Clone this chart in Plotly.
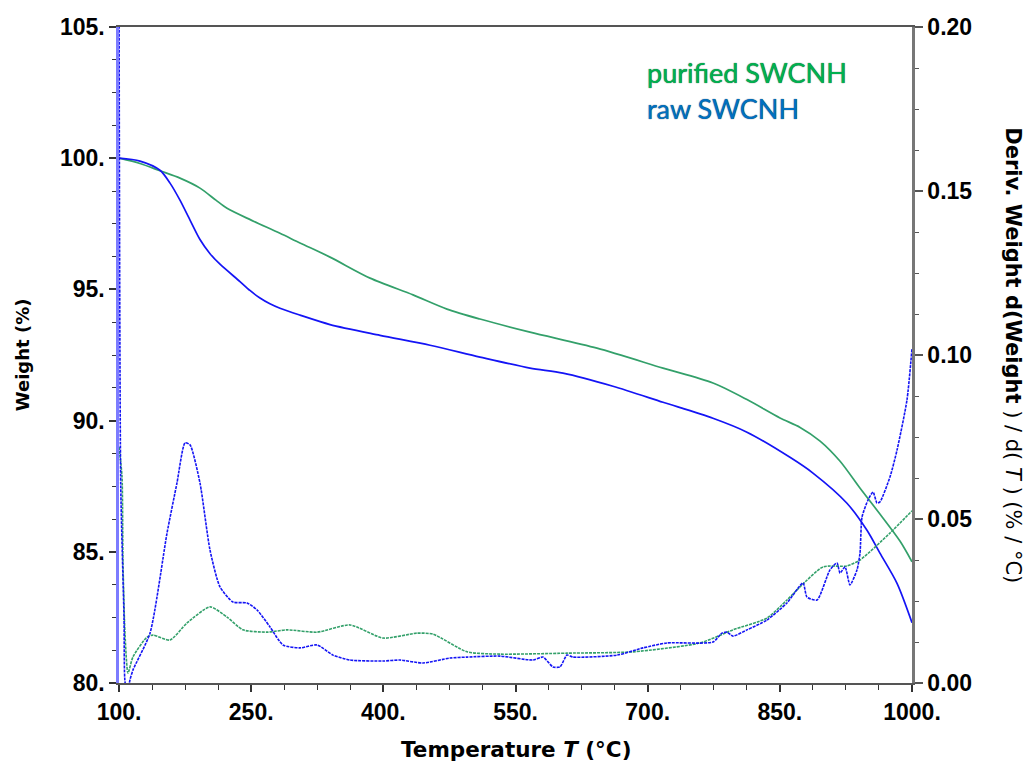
import plotly.graph_objects as go

# ---- Weight curves (%), solid ----
T_pur_w = [100, 123.8, 146.5, 169.2, 191.9, 210.0, 222.6, 250.0, 282.7, 305.4, 339.5, 384.9, 433.7,
           472.2, 509.7, 566.4, 642.5, 717.4, 774.1, 812.7, 850.2, 873.0, 895.7, 918.4, 941.1,
           963.8, 986.5, 1000]
W_pur = [100.0, 99.80, 99.52, 99.24, 98.86, 98.40, 98.09, 97.64, 97.14, 96.77, 96.23, 95.43, 94.79,
         94.25, 93.87, 93.37, 92.76, 92.00, 91.43, 90.80, 90.10, 89.74, 89.22, 88.45, 87.42,
         86.43, 85.40, 84.62]

T_raw_w = [100, 123.8, 146.5, 157.9, 169.2, 180.6, 191.9, 203.3, 214.6, 237.3, 248.6, 260.0, 271.3,
           282.7, 305.4, 339.5, 396.2, 453.0, 509.7, 566.4, 603.9, 660.6, 717.4, 774.1, 812.7,
           861.5, 887.6, 926.2, 948.9, 963.6, 983.0, 1000]
W_raw = [100.0, 99.89, 99.54, 99.05, 98.40, 97.64, 96.90, 96.36, 95.96, 95.30, 94.96, 94.67, 94.45,
         94.28, 94.02, 93.66, 93.25, 92.87, 92.42, 92.00, 91.81, 91.31, 90.70, 90.09, 89.56,
         88.60, 88.00, 86.85, 85.82, 84.95, 83.80, 82.30]

# ---- Derivative curves (% / °C), dashed ----
T_pur_d = [100, 103.4, 104.5, 106.8, 110.2, 115.9, 131.8, 138.6, 157.9, 177.2, 203.3, 222.6, 240.7,
           268.0, 290.7, 324.7, 362.2, 399.6, 438.2, 456.4, 495.0, 532.4, 608.4, 683.3, 759.4,
           796.8, 835.4, 858.1, 872.9, 899.0, 926.2, 941.0, 975.0, 1000]
D_pur = [0.072, 0.063, 0.037, 0.015, 0.003, 0.008, 0.014, 0.0146, 0.0131, 0.0183, 0.0232, 0.0201, 0.0162,
         0.0155, 0.0162, 0.0155, 0.0177, 0.0137, 0.0152, 0.0149, 0.0095, 0.0088, 0.0091, 0.0095, 0.0122,
         0.0162, 0.0198, 0.0253, 0.0293, 0.0354, 0.0357, 0.0375, 0.0457, 0.0525]

T_raw_d = [100, 102.0, 105.7, 107.0, 110.0, 112.5, 115.9, 135.2, 154.5, 165.8, 174.9, 180.6, 191.9,
           203.3, 214.6, 229.4, 245.3, 256.6, 271.4, 286.1, 305.4, 324.7, 342.9, 362.2, 399.6,
           418.9, 445.0, 475.7, 495.0, 532.4, 569.8, 581.2, 592.5, 600.5, 608.4, 615.2, 665.2,
           694.7, 721.9, 774.1, 784.3, 790.0, 796.8, 812.7, 835.4, 858.1, 876.3, 880.8, 892.2,
           906.9, 914.9, 918.3, 924.0, 929.6, 937.6, 941.0, 943.3, 950.1, 955.8, 960.3, 963.6,
           975.0, 983.0, 994.3, 1000]
D_raw = [0.22, 0.06, 0.02, 0.0, -0.002, 0.001, 0.004, 0.0152, 0.0457, 0.061, 0.0732, 0.0726, 0.061,
         0.0405, 0.0293, 0.0247, 0.0244, 0.0223, 0.0171, 0.0116, 0.0107, 0.0116, 0.0085, 0.0070, 0.0067,
         0.0070, 0.0061, 0.0076, 0.0079, 0.0082, 0.0070, 0.0079, 0.0049, 0.0049, 0.0085, 0.0079, 0.0085,
         0.0107, 0.0122, 0.0125, 0.0152, 0.0155, 0.0143, 0.0162, 0.0192, 0.0244, 0.0305, 0.0262, 0.0253,
         0.0345, 0.0366, 0.0335, 0.0354, 0.0299, 0.0345, 0.0396, 0.0506, 0.0558, 0.0582, 0.0549, 0.0552,
         0.0628, 0.0710, 0.0863, 0.102]

# ---- Axis ticks ----
x_ticks = [100, 250, 400, 550, 700, 850, 1000]
x_ticktext = ["100.", "250.", "400.", "550.", "700.", "850.", "1000."]
y_ticks = [80, 85, 90, 95, 100, 105]
y_ticktext = ["80.", "85.", "90.", "95.", "100.", "105."]
y2_ticks = [0.0, 0.05, 0.10, 0.15, 0.20]
y2_ticktext = ["0.00", "0.05", "0.10", "0.15", "0.20"]

GREEN = "#33a06a"
BLUE = "#1414f5"

fig = go.Figure()
fig.add_trace(go.Scatter(x=T_pur_d, y=D_pur, yaxis="y2", mode="lines",
                         line=dict(color=GREEN, width=1.6, dash="3px,1px", shape="spline", smoothing=0.6),
                         showlegend=False))
fig.add_trace(go.Scatter(x=T_raw_d, y=D_raw, yaxis="y2", mode="lines",
                         line=dict(color=BLUE, width=1.6, dash="3px,1px", shape="spline", smoothing=0.6),
                         showlegend=False))
fig.add_trace(go.Scatter(x=T_pur_w, y=W_pur, mode="lines",
                         line=dict(color=GREEN, width=1.7, shape="spline", smoothing=0.8),
                         showlegend=False))
fig.add_trace(go.Scatter(x=T_raw_w, y=W_raw, mode="lines",
                         line=dict(color=BLUE, width=1.7, shape="spline", smoothing=0.8),
                         showlegend=False))

tickfont = dict(family="Liberation Sans", size=23, color="black", weight="bold")
TITLE_FONT = "DejaVu Sans"

fig.update_layout(
    width=1027, height=764,
    margin=dict(l=119, r=115, t=27, b=81),
    paper_bgcolor="white", plot_bgcolor="white",
    xaxis=dict(range=[100, 1000], tickvals=x_ticks, ticktext=x_ticktext,
               ticks="outside", ticklen=7, tickwidth=1.5, tickcolor="#333",
               showline=True, linecolor="#555", linewidth=2, mirror=True,
               showgrid=False, zeroline=False, tickfont=tickfont,
               minor=dict(tick0=100, dtick=37.5, ticks="outside", ticklen=5, tickcolor="#333", tickwidth=1.2)),
    yaxis=dict(range=[80, 105], tickvals=y_ticks, ticktext=y_ticktext,
               ticks="outside", ticklen=7, tickwidth=1.5, tickcolor="#333",
               showline=True, linecolor="#7c7cff", linewidth=2.5,
               showgrid=False, zeroline=False, tickfont=tickfont,
               minor=dict(tick0=80, dtick=1.25, ticks="outside", ticklen=4, tickcolor="#333", tickwidth=1.2)),
    yaxis2=dict(range=[0, 0.2], overlaying="y", side="right", anchor="x",
                tickvals=y2_ticks, ticktext=y2_ticktext,
                ticks="outside", ticklen=8, tickwidth=1.5, tickcolor="#555",
                showline=True, linecolor="#777", linewidth=2.5,
                showgrid=False, zeroline=False, tickfont=tickfont,
                minor=dict(tick0=0, dtick=0.0125, ticks="outside", ticklen=4, tickcolor="#555", tickwidth=1.2)),
    annotations=[
        dict(text="<b>Weight (%)</b>", xref="paper", yref="paper", x=-0.122, y=0.5,
             textangle=-90, showarrow=False, xanchor="center", yanchor="middle",
             font=dict(family=TITLE_FONT, size=18, color="black")),
        dict(text="<b>Temperature <i>T</i> (°C)</b>", xref="paper", yref="paper", x=0.5, y=-0.102,
             showarrow=False, xanchor="center", yanchor="middle",
             font=dict(family=TITLE_FONT, size=21.5, color="black")),
        dict(text="<b>Deriv. Weight d(Weight</b> ) / d( <i>T</i> ) (% / °C)", xref="paper", yref="paper",
             x=1.127, y=0.5, textangle=90, showarrow=False, xanchor="center", yanchor="middle",
             font=dict(family=TITLE_FONT, size=21, color="black")),
        dict(text="purified SWCNH", xref="paper", yref="paper", x=0.663, y=0.931,
             showarrow=False, xanchor="left", yanchor="middle",
             font=dict(family="Lato", size=27, color="#00b050", shadow="0px 0px 1px #0a3a1a")),
        dict(text="raw SWCNH", xref="paper", yref="paper", x=0.663, y=0.876,
             showarrow=False, xanchor="left", yanchor="middle",
             font=dict(family="Lato", size=27, color="#0070c0", shadow="0px 0px 1px #0a2a4a")),
    ],
)

fig.write_html("out.html", config={"displayModeBar": False},
               post_script="document.body.style.margin='0';document.body.style.overflow='hidden';")
